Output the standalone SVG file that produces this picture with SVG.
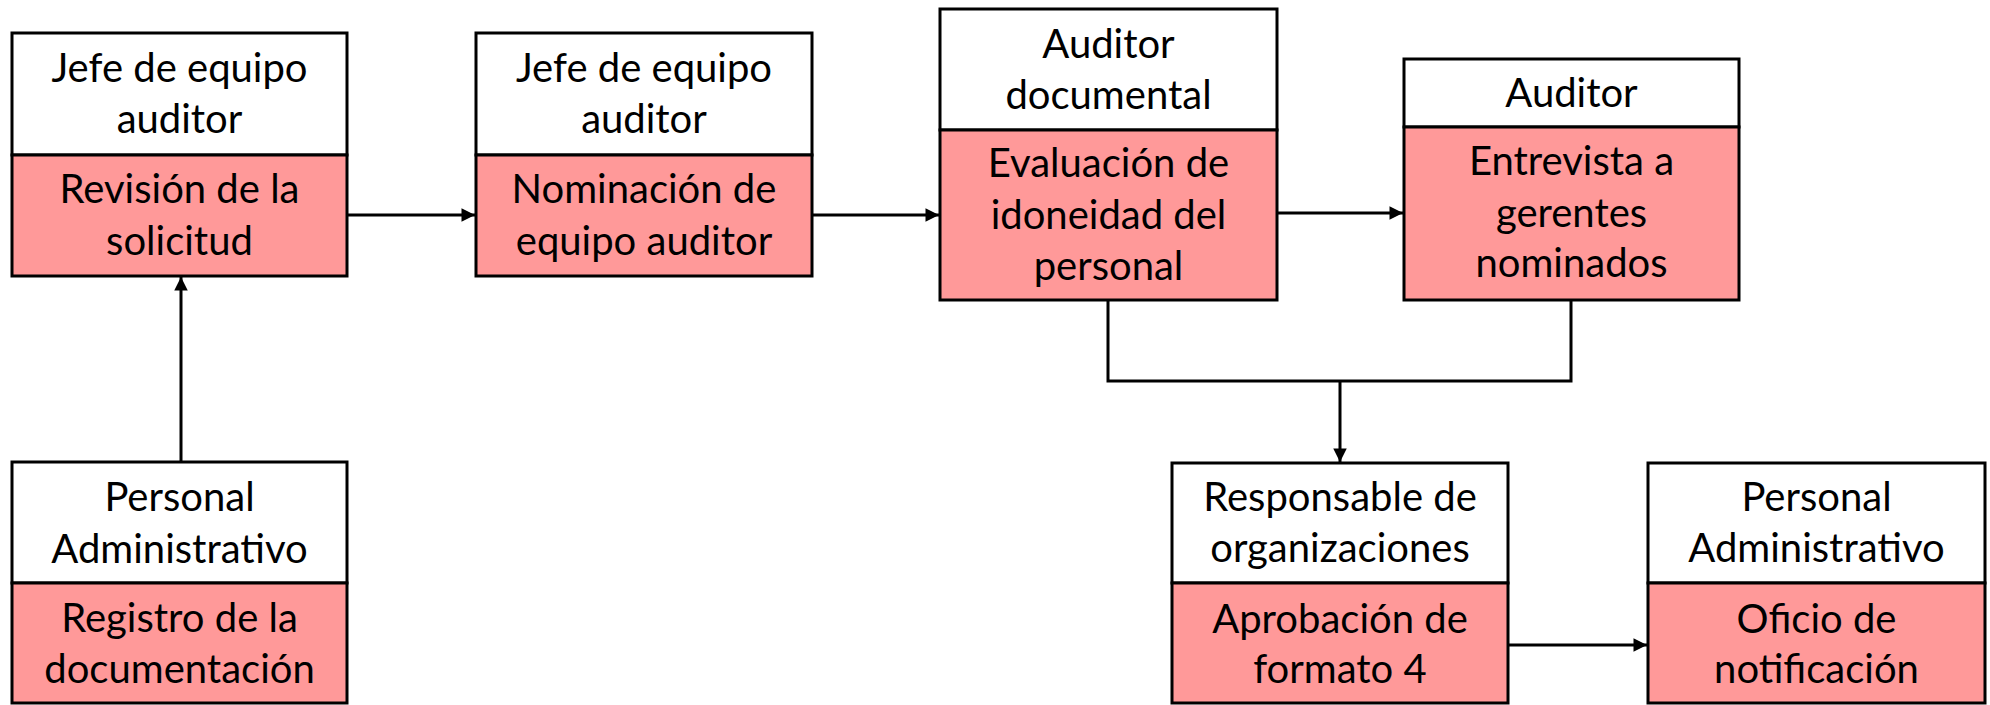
<svg xmlns="http://www.w3.org/2000/svg" width="1990" height="705" viewBox="0 0 1990 705">
<style>
.bx{fill:#ffffff;stroke:#000;stroke-width:3}
.ac{fill:#ff9999;stroke:#000;stroke-width:3}
.t{font-family:Lato,"Open Sans","Liberation Sans",sans-serif;font-size:40px;fill:#000;text-anchor:middle}
.c{fill:none;stroke:#000;stroke-width:3}
</style>
<defs>
<marker id="ah" viewBox="0 0 10 10" refX="10" refY="5" markerWidth="5" markerHeight="4.5" orient="auto" markerUnits="strokeWidth">
<path d="M0,0 L10,5 L0,10 z" fill="#000"/>
</marker>
</defs>
<rect width="1990" height="705" fill="#fff"/>
<g id="connectors">
<line class="c" x1="347" y1="215" x2="475" y2="215" marker-end="url(#ah)"/>
<line class="c" x1="812" y1="215" x2="939" y2="215" marker-end="url(#ah)"/>
<line class="c" x1="1277" y1="213" x2="1403" y2="213" marker-end="url(#ah)"/>
<line class="c" x1="181" y1="462" x2="181" y2="277" marker-end="url(#ah)"/>
<path class="c" d="M1108,300 V381 H1571 V300"/>
<line class="c" x1="1340" y1="381" x2="1340" y2="462" marker-end="url(#ah)"/>
<line class="c" x1="1508" y1="645" x2="1647" y2="645" marker-end="url(#ah)"/>
</g>
<g id="n1">
<rect class="bx" x="12" y="33" width="335" height="122"/>
<rect class="ac" x="12" y="155" width="335" height="121"/>
<text class="t" x="179.5" y="82">Jefe de equipo</text>
<text class="t" x="179.5" y="133">auditor</text>
<text class="t" x="179.5" y="203">Revisión de la</text>
<text class="t" x="179.5" y="255">solicitud</text>
</g>
<g id="n2">
<rect class="bx" x="476" y="33" width="336" height="122"/>
<rect class="ac" x="476" y="155" width="336" height="121"/>
<text class="t" x="644" y="82">Jefe de equipo</text>
<text class="t" x="644" y="133">auditor</text>
<text class="t" x="644" y="203">Nominación de</text>
<text class="t" x="644" y="255">equipo auditor</text>
</g>
<g id="n3">
<rect class="bx" x="940" y="9" width="337" height="121"/>
<rect class="ac" x="940" y="130" width="337" height="170"/>
<text class="t" x="1108.5" y="58">Auditor</text>
<text class="t" x="1108.5" y="109">documental</text>
<text class="t" x="1108.5" y="177">Evaluación de</text>
<text class="t" x="1108.5" y="229">idoneidad del</text>
<text class="t" x="1108.5" y="280">personal</text>
</g>
<g id="n4">
<rect class="bx" x="1404" y="59" width="335" height="68"/>
<rect class="ac" x="1404" y="127" width="335" height="173"/>
<text class="t" x="1571.5" y="107">Auditor</text>
<text class="t" x="1571.5" y="175">Entrevista a</text>
<text class="t" x="1571.5" y="227">gerentes</text>
<text class="t" x="1571.5" y="277">nominados</text>
</g>
<g id="n5">
<rect class="bx" x="12" y="462" width="335" height="121"/>
<rect class="ac" x="12" y="583" width="335" height="120"/>
<text class="t" x="179.5" y="511">Personal</text>
<text class="t" x="179.5" y="563">Administrativo</text>
<text class="t" x="179.5" y="632">Registro de la</text>
<text class="t" x="179.5" y="683">documentación</text>
</g>
<g id="n6">
<rect class="bx" x="1172" y="463" width="336" height="120"/>
<rect class="ac" x="1172" y="583" width="336" height="120"/>
<text class="t" x="1340" y="511">Responsable de</text>
<text class="t" x="1340" y="562">organizaciones</text>
<text class="t" x="1340" y="633">Aprobación de</text>
<text class="t" x="1340" y="683">formato 4</text>
</g>
<g id="n7">
<rect class="bx" x="1648" y="463" width="337" height="120"/>
<rect class="ac" x="1648" y="583" width="337" height="120"/>
<text class="t" x="1816.5" y="511">Personal</text>
<text class="t" x="1816.5" y="562">Administrativo</text>
<text class="t" x="1816.5" y="633">Oficio de</text>
<text class="t" x="1816.5" y="683">notificación</text>
</g>
</svg>
